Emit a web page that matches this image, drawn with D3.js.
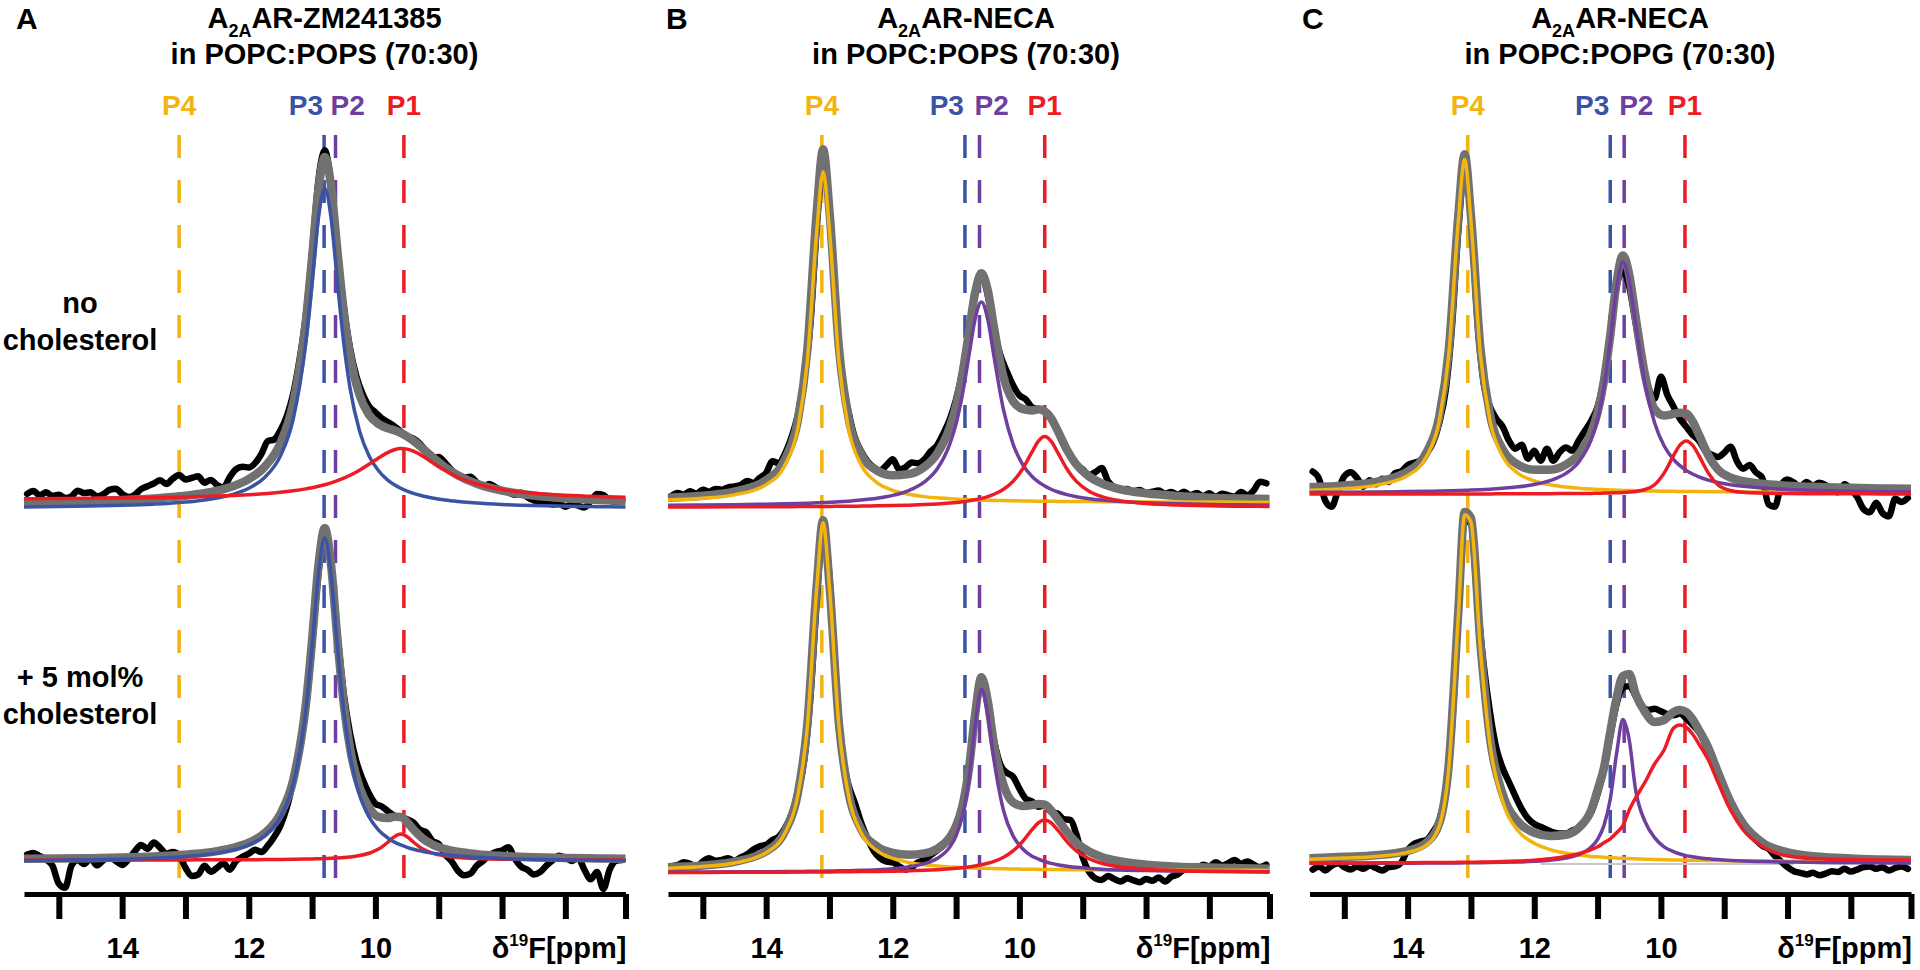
<!DOCTYPE html>
<html><head><meta charset="utf-8">
<script src="https://cdn.jsdelivr.net/npm/d3@7"></script>
<style>
html,body{margin:0;padding:0;background:#fff}
svg{display:block}
text{font-family:"Liberation Sans",Arial,Helvetica,sans-serif;font-weight:bold;fill:#000}
</style>
</head><body>
<svg id="chart" width="1920" height="970"></svg>
<script>
// ---------------- DATA ----------------
// chemical-shift sampling of the fitted curves (ppm)
const fitPpm = [15.55,15.0,14.5,14.0,13.7,13.5,13.35,13.2,13.1,13.0,12.85,12.7,12.5,12.25,12.0,11.75,11.5,11.3,11.1,11.0,10.9,10.8,10.7,10.6,10.5,10.4,10.25,10.1,9.95,9.8,9.7,9.6,9.5,9.4,9.25,9.1,8.9,8.7,8.4,8.0,7.5,7.0,6.5,6.05];
// experimental spectra sampled every 0.1 ppm from 15.5 down to 6.1
const traceStart = 15.5, traceStep = 0.1;

const xTickValues = [15,14,13,12,11,10,9,8,7,6.05];
const xTickLabels = ["","14","","12","","10","","","",""];
const peakNames = ["P4","P3","P2","P1"];
const peaksA = [13.1,10.81,10.63,9.55];
const peaksB = [13.12,10.86,10.63,9.6];
const peaksC = [13.05,10.8,10.58,9.62];
const panelLetters = ["A","B","C"];
const ligands = ["ZM241385","NECA","NECA"];
const lipids = ["in POPC:POPS (70:30)","in POPC:POPS (70:30)","in POPC:POPG (70:30)"];
const rowLabels = [["no","cholesterol"],["+ 5 mol%","cholesterol"]];

// ---- Panel A, no cholesterol ----
const aTopP3 = [0.34,0.43,0.56,0.74,0.90,1.04,1.16,1.31,1.43,1.56,1.79,2.07,2.57,3.49,5.0,7.7,13.1,22.2,41.3,56.5,72.5,80,72.5,56.5,41.3,30.0,19.3,13.1,9.4,7.0,5.9,5.0,4.3,3.74,3.08,2.57,2.07,1.71,1.31,0.97,0.70,0.53,0.41,0.34];
const aTopP1 = [2.41,2.46,2.51,2.59,2.64,2.68,2.72,2.77,2.8,2.83,2.89,2.95,3.05,3.2,3.4,3.66,4.01,4.38,4.86,5.16,5.5,5.9,6.37,6.9,7.53,8.26,9.54,11.03,12.6,14.0,14.65,14.95,14.8,14.3,13.0,11.45,9.44,7.8,6.08,4.7,3.77,3.27,2.97,2.79];
const aTopFit = [1.46,1.61,1.79,2.06,2.28,2.46,2.63,2.83,2.99,3.15,3.45,3.8,4.42,5.53,7.3,10.36,16.31,26.18,46.51,62.62,79.6,87.8,80.47,64.36,49.18,38.16,28.31,23.35,21.08,19.98,19.49,18.85,17.97,16.89,14.9,12.82,10.29,8.28,6.14,4.41,3.2,2.52,2.1,1.84];
const aTopExp = [3.6,4.3,3.2,4.0,3.1,3.4,2.6,3.0,4.4,3.8,
 4.0,3.0,3.5,4.6,4.9,3.6,2.8,3.4,4.8,5.5,
 6.2,7.0,6.1,7.4,8.3,7.2,7.6,8.0,6.4,7.1,
 5.8,5.2,7.8,9.8,10.4,10.2,11.3,13.6,16.8,17.2,
 19.5,23,28.5,37,48,64,82,89.5,81,65,
 50.5,40,33,28.5,25.5,24,22.5,21.5,20.5,19.2,
 18,17.4,16.2,14.3,12.5,12.8,11.4,9.6,8.2,7.7,
 7.9,6.5,5.5,6.1,5.2,4.5,4.0,3.4,3.9,2.8,
 2.0,1.4,1.9,0.9,1.2,0.4,1.0,0.7,0.2,1.8,
 3.6,3.3,2.0,1.6,2.0];

// ---- Panel A, + 5 mol% cholesterol ----
const aBotP3 = [0.28,0.36,0.46,0.62,0.75,0.86,0.97,1.09,1.18,1.29,1.48,1.72,2.14,2.91,4.18,6.48,11.2,19.3,37.7,53.6,71.8,81,71.8,53.6,37.7,26.6,16.7,11.2,7.9,5.9,4.9,4.18,3.6,3.1,2.56,2.14,1.72,1.41,1.09,0.80,0.58,0.44,0.34,0.28];
const aBotP1 = [0.42,0.42,0.42,0.43,0.43,0.44,0.44,0.45,0.45,0.45,0.46,0.46,0.47,0.48,0.5,0.52,0.56,0.6,0.65,0.69,0.73,0.78,0.85,0.94,1.05,1.2,1.54,2.12,3.15,4.9,6.25,6.9,6.25,4.9,3.15,2.12,1.41,1.05,0.78,0.62,0.53,0.49,0.46,0.45];
const aBotFit = [0.71,0.79,0.89,1.06,1.2,1.32,1.43,1.56,1.65,1.77,1.97,2.21,2.65,3.45,4.76,7.13,11.98,20.29,39.1,55.36,73.97,83.4,74.09,55.61,39.5,28.33,18.57,13.54,11.21,10.92,11.25,11.16,9.92,8.06,5.76,4.3,3.16,2.49,1.89,1.44,1.12,0.94,0.81,0.74];
const aBotExp = [1.8,2.2,1.4,0.5,-1.0,-5.5,-6.5,-1.0,0.4,-0.6,
 0.8,-0.9,0.3,1.2,0.2,-0.8,0.6,2.6,4.2,3.2,
 4.8,3.5,2.0,2.4,1.6,-1.5,-3.6,-3.2,-1.0,-2.5,
 -1.5,-0.4,-2.0,0.2,1.2,2.0,3.0,2.4,4.0,6.2,
 9.0,13.5,20,28,38,54,72,83,74,57,
 42,32,25,20.5,17,14.5,13.8,12.6,11.5,11.0,
 10.6,9.8,8.0,7.4,5.2,4.4,1.8,0.2,-2.2,-3.4,
 -3.0,-1.0,0.2,1.6,2.4,2.8,3.6,0.8,-1.2,-2.0,
 -3.2,-2.6,-1.0,0.4,1.5,1.0,0.2,1.0,-2.0,-4.4,
 -2.6,-6.8,-2.0,0.2,0.4];

// ---- Panel B, no cholesterol ----
const bTopP4 = [1.83,2.25,3.11,5.67,10.61,19.7,36.4,69.2,83.9,69.2,36.4,19.7,10.61,6.18,4.24,3.25,2.67,2.36,2.15,2.06,1.98,1.92,1.86,1.81,1.76,1.72,1.67,1.62,1.58,1.55,1.53,1.51,1.49,1.48,1.46,1.44,1.42,1.40,1.37,1.35,1.32,1.30,1.29,1.28];
const bTopP2 = [0.53,0.58,0.66,0.78,0.87,0.95,1.02,1.11,1.17,1.25,1.37,1.53,1.8,2.26,2.98,4.19,6.34,9.57,15.8,20.9,28.2,37.6,47.0,51.3,47.0,37.6,24.3,15.8,10.75,7.71,6.34,5.31,4.51,3.89,3.18,2.65,2.15,1.8,1.42,1.11,0.87,0.73,0.63,0.57];
const bTopP1 = [0.07,0.09,0.11,0.13,0.15,0.17,0.18,0.2,0.21,0.22,0.24,0.26,0.3,0.36,0.43,0.54,0.68,0.84,1.07,1.21,1.39,1.61,1.89,2.23,2.68,3.26,4.51,6.48,9.58,13.86,16.56,17.7,16.56,13.86,9.58,6.48,4.03,2.68,1.61,0.95,0.56,0.37,0.26,0.2];
const bTopFit = [2.4,2.9,3.9,6.8,12.1,21.7,39.3,74.0,89.5,74.1,39.8,22.5,13.3,9.2,8.0,8.3,10.1,13.4,20.0,25.4,33.3,43.4,53.6,58.5,54.3,44.8,32.5,26.5,24.6,24.2,24.5,24.0,22.3,19.3,14.4,10.7,7.7,6.0,4.5,3.5,2.8,2.4,2.2,2.1];
const bTopExp = [2.8,3.6,3.2,4.0,3.4,4.4,3.9,4.6,4.4,5.0,
 5.2,5.6,6.6,6.1,7.4,8.6,11.5,11.0,13.5,17.5,
 23,32,46,70,86,74,50,33,24,17.5,
 14,11.5,10,9.2,10.5,12.0,9.5,10.0,11.2,11.0,
 12.0,14.0,15.5,18.5,22,27,34,44,54,58,
 53,44,38,34,30.5,28,27,25,24.5,24,
 22,19.5,16,13,10.5,9.5,8.0,8.8,9.8,6.5,
 5.0,4.4,4.6,4.0,4.3,3.5,3.9,4.2,3.4,3.8,
 3.2,3.9,3.0,3.6,2.8,3.5,2.6,3.4,3.0,2.6,
 3.8,3.0,4.2,6.4,6.0];

// ---- Panel B, + 5 mol% cholesterol ----
const bBotP4 = [1.14,1.55,2.42,4.99,10.0,19.3,36.5,71.4,87.5,71.4,36.5,19.3,10.0,5.5,3.56,2.56,1.97,1.67,1.45,1.36,1.29,1.22,1.16,1.11,1.06,1.02,0.97,0.92,0.89,0.85,0.83,0.81,0.8,0.78,0.76,0.74,0.72,0.7,0.67,0.65,0.62,0.6,0.59,0.58];
const bBotP2 = [0.17,0.19,0.22,0.26,0.29,0.32,0.34,0.37,0.39,0.42,0.46,0.51,0.6,0.76,1.01,1.44,2.25,3.55,6.4,9.24,14.16,22.95,36.66,45.8,39.5,28.0,15.5,9.2,6.0,4.1,3.4,2.8,2.34,2.0,1.6,1.34,1.07,0.88,0.68,0.52,0.4,0.32,0.27,0.24];
const bBotP1 = [0.07,0.08,0.1,0.12,0.14,0.15,0.16,0.18,0.19,0.2,0.22,0.24,0.27,0.32,0.39,0.49,0.61,0.76,0.96,1.09,1.25,1.44,1.68,1.98,2.36,2.85,3.88,5.45,7.79,10.76,12.49,13.2,12.49,10.76,7.79,5.45,3.49,2.36,1.44,0.85,0.51,0.34,0.24,0.18];
const bBotFit = [1.38,1.82,2.74,5.37,10.43,19.77,37.0,71.95,88.1,72.0,37.2,20.05,10.87,6.58,4.96,4.49,4.83,5.98,8.81,11.69,16.7,25.61,39.5,48.89,42.9,31.9,21.9,17.6,16.7,16.9,17.2,17.0,15.6,13.5,10.2,7.5,5.3,3.9,2.8,2.0,1.5,1.3,1.1,1.0];
const bBotExp = [1.6,1.9,2.6,2.2,1.4,2.8,3.6,3.0,3.2,3.6,
 3.0,3.8,4.6,5.8,6.6,7.0,8.2,9.0,11.2,14.6,
 20,28,44,68,86,74,47,30,22,17.5,
 12.5,8.6,5.4,3.6,2.8,2.6,1.6,0.8,1.4,2.6,
 3.2,4.4,5.6,6.8,8.8,11.5,17,26,40,48,
 42,33,27,25,24,21,18.5,17.8,16.5,16.8,
 15.2,14.8,13.4,13.2,9.6,3.8,0.2,-1.4,-1.8,-0.8,
 -1.6,-2.2,-1.4,-1.9,-2.4,-1.6,-2.0,-1.2,-2.2,-1.0,
 -0.4,0.8,1.4,1.0,2.0,1.6,2.6,1.8,2.4,3.2,
 2.2,2.8,2.0,1.4,2.0];

// ---- Panel C, no cholesterol ----
const cTopP4 = [1.11,1.51,2.34,4.8,9.6,18.5,35.0,68.4,83.8,68.4,35.0,18.5,9.6,5.29,3.43,2.47,1.91,1.62,1.41,1.32,1.26,1.19,1.13,1.08,1.04,1.0,0.95,0.9,0.87,0.84,0.82,0.8,0.79,0.77,0.75,0.73,0.71,0.69,0.66,0.64,0.61,0.6,0.59,0.58];
const cTopP2 = [0.58,0.62,0.69,0.78,0.85,0.92,0.97,1.04,1.09,1.15,1.25,1.37,1.59,1.96,2.55,3.52,5.34,8.13,13.8,18.9,26.8,38.2,51.5,58.2,53.3,42.7,27.6,18.0,12.24,8.8,7.25,6.08,5.17,4.47,3.66,3.06,2.5,2.1,1.67,1.32,1.05,0.89,0.77,0.71];
const cTopP1 = [0.2,0.2,0.2,0.2,0.2,0.2,0.2,0.2,0.2,0.2,0.2,0.2,0.22,0.22,0.24,0.26,0.28,0.3,0.33,0.36,0.4,0.45,0.5,0.55,0.65,0.8,1.3,2.5,5.4,9.8,12.4,13.45,12.4,9.8,5.4,2.5,1.05,0.6,0.4,0.3,0.25,0.22,0.2,0.2];
const cTopFit = [1.89,2.33,3.23,5.78,10.65,19.62,36.17,69.64,85.09,69.75,36.45,20.07,11.41,7.47,6.22,6.25,7.53,10.05,15.54,20.58,28.46,39.84,53.13,59.83,54.99,44.5,29.85,21.4,19.8,20.2,20.47,20.33,18.36,15.04,9.81,6.29,4.26,3.39,2.73,2.26,1.91,1.71,1.56,1.49];
const cTopExp = [5.8,4.0,-1.5,-3.0,1.0,4.6,5.6,4.2,2.0,3.6,
 2.6,4.0,3.2,5.4,5.8,7.4,8.0,8.6,10.4,13,
 18,26,42,66,81,70,44,28,22,19,
 17,13.5,11.5,12.5,9.0,11.0,8.5,11.5,8.5,10.6,
 11.8,11.0,13.5,16,18.5,22,29,40,52,56,
 52,43,34,27,24,29.5,25,22,19,17,
 15,13.5,11,10,9.4,10.5,12,8.4,6.5,7.4,
 5.6,4.2,-2.4,-3.0,2.4,3.8,3.0,2.0,3.2,2.2,
 3.0,2.4,1.0,0.6,2.6,1.4,-0.6,-3.6,-4.4,-2.0,
 -4.6,-5.4,-1.0,-1.8,-0.8];

// ---- Panel C, + 5 mol% cholesterol ----
const cBotP4 = [1.2,1.5,1.9,2.9,4.8,9.5,24,62,87.3,85.5,53.5,29.9,15.7,8.2,5.2,3.6,2.7,2.24,1.9,1.8,1.68,1.58,1.5,1.42,1.35,1.29,1.19,1.12,1.06,1.01,0.98,0.95,0.93,0.91,0.88,0.85,0.81,0.78,0.75,0.71,0.68,0.65,0.63,0.61];
const cBotP2 = [0.15,0.16,0.18,0.2,0.22,0.24,0.25,0.27,0.29,0.3,0.33,0.36,0.42,0.52,0.69,0.96,1.48,2.33,4.23,6.16,9.6,16.2,27.6,36.1,31.0,18.6,10.6,6.6,4.3,3.1,2.5,2.1,1.8,1.55,1.3,1.1,0.9,0.75,0.6,0.48,0.38,0.32,0.28,0.25];
const cBotP1 = [0.25,0.27,0.3,0.33,0.35,0.37,0.39,0.41,0.43,0.45,0.48,0.52,0.6,0.75,0.95,1.3,1.9,2.6,3.6,4.3,5.3,6.3,7.8,9.6,13.5,16.5,20.5,25.0,28.5,34.0,34.75,34.2,32.5,30.0,26.0,20.5,13.5,8.5,4.4,2.0,1.3,1.1,1.0,0.95];
const cBotFit = [1.4,1.8,2.2,3.3,5.4,10.2,25,63,88,86.5,55,31.5,17.5,10.5,7.8,7.0,7.3,9.0,13.5,18.5,24,33,41.5,47,47.5,42.5,38,35.5,36,38.0,38.5,38.0,36.2,33.5,29.0,23.0,15.5,10.0,5.4,2.9,1.8,1.4,1.1,1.0];
const cBotExp = [-1.4,-0.6,-1.6,-0.4,0.2,-0.8,-1.4,-0.6,-1.2,-0.4,
 -1.0,-1.6,-0.8,-0.6,0.4,3.5,5.0,5.6,6.0,8.0,
 11,18,34,62,86,85,66,50,38,29,
 24,20.5,17,13.8,11.4,10.0,9.3,8.6,7.9,7.6,
 7.6,8.4,8.9,10.8,13.0,17.5,23.5,32,40,44,
 44.5,42,39.5,38.5,38.8,38.2,37.5,37.2,37.6,36.4,
 34.8,33.0,30.0,26.5,22.5,18.8,15.0,12.0,9.5,7.8,
 6.0,4.6,3.8,2.0,0.6,-0.8,-1.8,-2.2,-2.6,-2.2,
 -2.8,-2.4,-1.8,-2.0,-1.2,-1.9,-1.4,-0.8,-0.6,-1.2,
 -0.8,-1.6,-1.0,-0.6,-1.2];

// ---------------- LAYOUT / STYLE ----------------
const colors = {P4:"#F2B40F", P3:"#3B53A4", P2:"#6F3F9F", P1:"#EC1C24", fit:"#717171", exp:"#000"};
const panels = [
  {x0:24,   x1:625.5, titleX:324.5, letterX:16,   peaks:peaksA,
   rows:[{zero:508.3, exp:aTopExp, fit:aTopFit, comps:[["P3",aTopP3],["P1",aTopP1]]},
         {zero:861.7, exp:aBotExp, fit:aBotFit, comps:[["P1",aBotP1],["P3",aBotP3]]}]},
  {x0:668,  x1:1269.5, titleX:966, letterX:666, peaks:peaksB,
   rows:[{zero:507.3, exp:bTopExp, fit:bTopFit, comps:[["P4",bTopP4],["P2",bTopP2],["P1",bTopP1]]},
         {zero:872.7, exp:bBotExp, fit:bBotFit, comps:[["P4",bBotP4],["P2",bBotP2],["P1",bBotP1]]}]},
  {x0:1309.5, x1:1911, titleX:1620, letterX:1302, peaks:peaksC,
   rows:[{zero:494.7, exp:cTopExp, fit:cTopFit, comps:[["P4",cTopP4],["P2",cTopP2],["P1",cTopP1]]},
         {zero:864.0, exp:cBotExp, fit:cBotFit, comps:[["P4",cBotP4],["P2",cBotP2],["P1",cBotP1]], refLine:[11.9,7.9]}]}
];
const axisY = 894, dashTop = 135, dashBottom = 890;

const svg = d3.select("#chart");
const tracePpm = aTopExp.map((_, i) => traceStart - i * traceStep);

panels.forEach((p, pi) => {
  const x = d3.scaleLinear().domain([15.55, 6.05]).range([p.x0, p.x1]);
  const g = svg.append("g");

  // panel letter
  g.append("text").attr("x", p.letterX).attr("y", 29).style("font-size", "30px").text(panelLetters[pi]);
  // title
  const t1 = g.append("text").attr("x", p.titleX).attr("y", 28).attr("text-anchor", "middle").style("font-size", "29px");
  t1.append("tspan").text("A");
  t1.append("tspan").text("2A").style("font-size", "18px").attr("dy", 9);
  t1.append("tspan").text("AR-" + ligands[pi]).attr("dy", -9);
  g.append("text").attr("x", p.titleX).attr("y", 64).attr("text-anchor", "middle").style("font-size", "29px").text(lipids[pi]);

  // dashed peak markers + labels
  p.peaks.forEach((ppm, k) => {
    const name = peakNames[k];
    const xp = x(ppm);
    g.append("line").attr("x1", xp).attr("x2", xp).attr("y1", dashTop).attr("y2", dashBottom)
      .attr("stroke", colors[name]).attr("stroke-width", 3.5).attr("stroke-dasharray", "23 22");
    let anchor = "middle", lx = xp;
    if (name === "P3") { anchor = "end"; lx = xp - 1; }
    if (name === "P2") { anchor = "start"; lx = xp - 5; }
    g.append("text").attr("x", lx).attr("y", 115).attr("text-anchor", anchor)
      .style("font-size", "28px").style("fill", colors[name]).text(name);
  });

  // spectra
  p.rows.forEach(r => {
    const y = d3.scaleLinear().domain([0, 90]).range([r.zero, r.zero - 360]);
    const line = d3.line().x(d => x(d[0])).y(d => y(d[1])).curve(d3.curveMonotoneX);
    if (r.refLine) {
      g.append("line").attr("x1", x(r.refLine[0])).attr("x2", x(r.refLine[1]))
        .attr("y1", y(0)).attr("y2", y(0)).attr("stroke", "#c8c8c8").attr("stroke-width", 2);
    }
    g.append("path").datum(r.exp.map((v, i) => [tracePpm[i], v])).attr("d", line)
      .attr("fill", "none").attr("stroke", colors.exp).attr("stroke-width", 6.5)
      .attr("stroke-linejoin", "round").attr("stroke-linecap", "round");
    g.append("path").datum(r.fit.map((v, i) => [fitPpm[i], v])).attr("d", line)
      .attr("fill", "none").attr("stroke", colors.fit).attr("stroke-width", 8.5)
      .attr("stroke-linejoin", "round").attr("stroke-linecap", "butt");
    r.comps.forEach(([name, vals]) => {
      g.append("path").datum(vals.map((v, i) => [fitPpm[i], v])).attr("d", line)
        .attr("fill", "none").attr("stroke", colors[name]).attr("stroke-width", 3.5)
        .attr("stroke-linejoin", "round");
    });
  });

  // axis
  const axis = d3.axisBottom(x).tickValues(xTickValues).tickSize(25).tickSizeOuter(0)
    .tickFormat((d, i) => xTickLabels[i]);
  const ag = g.append("g").attr("transform", `translate(0,${axisY})`).call(axis)
    .attr("font-family", null).attr("font-size", null);
  ag.select(".domain").attr("stroke", "#000").attr("stroke-width", 5);
  ag.selectAll(".tick line").attr("stroke", "#000").attr("stroke-width", 6);
  ag.selectAll(".tick text").attr("y", 64).attr("dy", null).style("font-size", "29px").attr("fill", "#000");

  // axis title
  const at = g.append("text").attr("x", p.x1 + 1).attr("y", axisY + 64).attr("text-anchor", "end").style("font-size", "29px");
  at.append("tspan").text("δ");
  at.append("tspan").text("19").style("font-size", "17px").attr("dy", -12);
  at.append("tspan").text("F[ppm]").attr("dy", 12);
});

// row labels
const rowLabelPos = [[313, 350], [687, 724]];
rowLabels.forEach((lines, ri) => {
  lines.forEach((s, li) => {
    svg.append("text").attr("x", 80).attr("y", rowLabelPos[ri][li]).attr("text-anchor", "middle")
      .style("font-size", "29px").text(s);
  });
});
</script>
</body></html>
